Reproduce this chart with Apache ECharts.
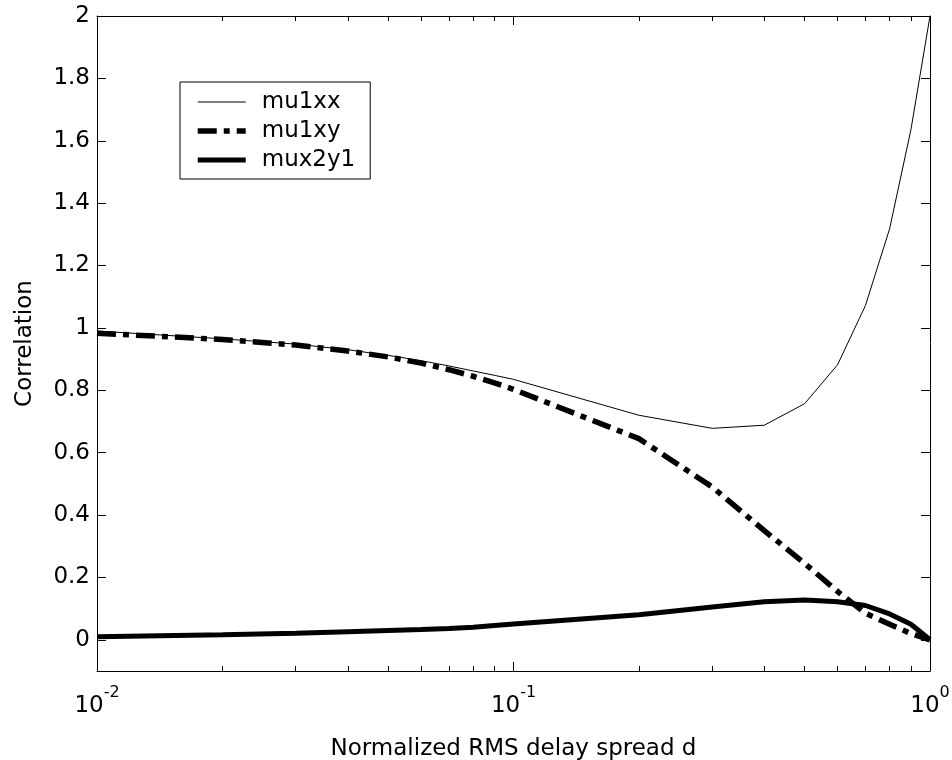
<!DOCTYPE html>
<html>
<head>
    <meta http-equiv="Content-Type" content="text/html; charset=utf-8" />
    <title>Correlation</title>
    <style>
        html, body { margin: 0; padding: 0; background: #fff; }
        #main { width: 952px; height: 760px; }
    </style>
</head>
<body>
    <div id="main"></div>
    <script src="https://cdn.jsdelivr.net/npm/echarts@6/dist/echarts.min.js"></script>
    <script type="text/javascript">
        // normalized RMS delay spread d
        var dValues = [0.01, 0.02, 0.03, 0.04, 0.05, 0.06, 0.07, 0.08, 0.09, 0.1,
                       0.2, 0.3, 0.4, 0.5, 0.6, 0.7, 0.8, 0.9, 1];
        var mu1xx = [0.99, 0.965, 0.948, 0.93, 0.912, 0.895, 0.878, 0.862, 0.848, 0.835,
                     0.72, 0.678, 0.688, 0.757, 0.882, 1.072, 1.318, 1.636, 2.0];
        var mu1xy = [0.983, 0.963, 0.945, 0.926, 0.907, 0.887, 0.866, 0.845, 0.824, 0.803,
                     0.645, 0.49, 0.35, 0.245, 0.155, 0.085, 0.05, 0.02, 0.0];
        var mux2y1 = [0.01, 0.016, 0.021, 0.026, 0.03, 0.033, 0.036, 0.04, 0.046, 0.051,
                      0.08, 0.105, 0.122, 0.128, 0.122, 0.11, 0.083, 0.05, 0.0];

        var yTicks = [0, 0.2, 0.4, 0.6, 0.8, 1, 1.2, 1.4, 1.6, 1.8, 2];
        var xMajorTicks = [0.01, 0.1, 1];
        var xMinorTicks = [0.02, 0.03, 0.04, 0.05, 0.06, 0.07, 0.08, 0.09,
                           0.2, 0.3, 0.4, 0.5, 0.6, 0.7, 0.8, 0.9];

        var FONT = 'DejaVu Sans';

        function pairs(ys) {
            return dValues.map(function (d, i) { return [d, ys[i]]; });
        }

        function xAxisDef(pos, ticks, len, showLabel, showLine) {
            return {
                type: 'log',
                logBase: 10,
                min: 0.01,
                max: 1,
                position: pos,
                axisLine: { show: showLine, onZero: false, lineStyle: { color: '#000', width: 1 } },
                axisTick: { show: true, inside: true, length: len, customValues: ticks,
                            lineStyle: { color: '#000', width: 1 } },
                axisLabel: {
                    show: showLabel,
                    customValues: xMajorTicks,
                    margin: 14,
                    formatter: function (v) {
                        var e = Math.round(Math.log10(v));
                        return '{b|10}{s|' + e + '}';
                    },
                    rich: {
                        b: { fontFamily: FONT, fontSize: 23, color: '#000' },
                        s: { fontFamily: FONT, fontSize: 16, color: '#000', padding: [0, 0, 26, 0] }
                    }
                },
                splitLine: { show: false },
                minorTick: { show: false },
                name: showLabel ? 'Normalized RMS delay spread d' : '',
                nameLocation: 'middle',
                nameGap: 67,
                nameTextStyle: { fontFamily: FONT, fontSize: 23, color: '#000' }
            };
        }

        function yAxisDef(pos, showLabel) {
            return {
                type: 'value',
                min: -0.1,
                max: 2,
                position: pos,
                axisLine: { show: true, onZero: false, lineStyle: { color: '#000', width: 1 } },
                axisTick: { show: true, inside: true, length: 9, customValues: yTicks,
                            lineStyle: { color: '#000', width: 1 } },
                axisLabel: {
                    show: showLabel,
                    customValues: yTicks,
                    margin: 7,
                    fontFamily: FONT,
                    fontSize: 23,
                    color: '#000'
                },
                splitLine: { show: false },
                name: showLabel ? 'Correlation' : '',
                nameLocation: 'middle',
                nameGap: 60,
                nameTextStyle: { fontFamily: FONT, fontSize: 23, color: '#000' }
            };
        }

        var option = {
            animation: false,
            backgroundColor: '#fff',
            grid: { left: 97, right: 22, top: 16, bottom: 89, containLabel: false,
                    outerBoundsMode: 'none' },
            legend: {
                orient: 'vertical',
                left: 180,
                top: 82,
                padding: [7, 15, 6, 15],
                itemGap: 3,
                itemWidth: 48,
                itemHeight: 14,
                borderColor: '#000',
                borderWidth: 1,
                backgroundColor: '#fff',
                selectedMode: false,
                itemStyle: { color: 'rgba(0,0,0,0)', borderColor: 'rgba(0,0,0,0)', borderWidth: 0, opacity: 0 },
                lineStyle: { width: 'inherit' },
                textStyle: { fontFamily: FONT, fontSize: 23, color: '#000', lineHeight: 26,
                             padding: [0, 0, 0, 11] },
                data: ['mu1xx', 'mu1xy', 'mux2y1']
            },
            xAxis: [
                xAxisDef('bottom', xMajorTicks, 9, true, true),
                xAxisDef('bottom', xMinorTicks, 5, false, false),
                xAxisDef('top', xMajorTicks, 9, false, true),
                xAxisDef('top', xMinorTicks, 5, false, false)
            ],
            yAxis: [
                yAxisDef('left', true),
                yAxisDef('right', false)
            ],
            series: [
                {
                    name: 'mu1xx',
                    type: 'line',
                    data: pairs(mu1xx),
                    symbol: 'none',
                    lineStyle: { color: '#000', width: 1 },
                    itemStyle: { color: '#000' }
                },
                {
                    name: 'mu1xy',
                    type: 'line',
                    data: pairs(mu1xy),
                    symbol: 'none',
                    lineStyle: { color: '#000', width: 5.5, type: [19, 7, 6, 7] },
                    itemStyle: { color: '#000' }
                },
                {
                    name: 'mux2y1',
                    type: 'line',
                    data: pairs(mux2y1),
                    symbol: 'none',
                    lineStyle: { color: '#000', width: 5 },
                    itemStyle: { color: '#000' }
                }
            ]
        };

        var myChart = echarts.init(document.getElementById('main'));
        myChart.setOption(option);
    </script>
</body>
</html>
